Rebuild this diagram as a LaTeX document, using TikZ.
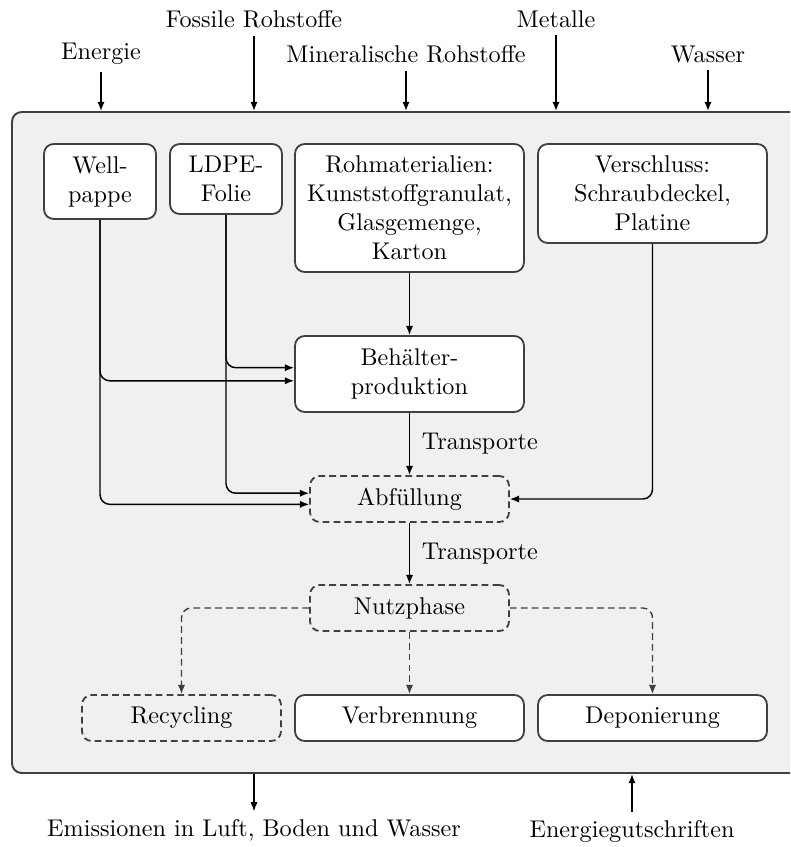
\documentclass[tikz,border=0pt]{standalone}
\usetikzlibrary{arrows.meta,positioning}
\definecolor{bgfill}{HTML}{F0F0F0}
\definecolor{edge}{HTML}{404040}
\def\u{0.4133pt}
\tikzset{
  box/.style={draw=edge, line width=0.75pt, fill=white, rounded corners=4pt, align=center, inner sep=2pt},
  dbox/.style={draw=edge, line width=0.75pt, dash pattern=on 2.8pt off 1.7pt, rounded corners=4pt, align=center, inner sep=2pt},
  outerbox/.style={draw=edge, line width=0.8pt, fill=bgfill, rounded corners=4pt},
  lab/.style={inner sep=3pt},
  conn/.style={line width=0.6pt, -{Latex[length=3.8pt,width=3pt]}, rounded corners=4pt},
  dconn/.style={conn, draw=edge, dash pattern=on 2.8pt off 1.7pt},
}
\begin{document}
\begin{tikzpicture}[x=\u, y=-\u]
\clip (0,0) rectangle (790,847);
\useasboundingbox (0,0) rectangle (790,847);

% system boundary
\node[outerbox, minimum width=820*\u, minimum height=661*\u] (sys) at (422,442.5) {};

% inputs
\node[lab] (energie) at (101,54) {Energie};
\node[lab] (fossil) at (254,19) {Fossile Rohstoffe};
\node[lab] (mineral) at (406,54) {Mineralische Rohstoffe};
\node[lab] (metalle) at (556,19) {Metalle};
\node[lab] (wasser) at (708,54) {Wasser};

\foreach \n in {energie,fossil,mineral,metalle,wasser}
  \draw[conn] (\n.south) -- (\n.south |- sys.north);

% boxes
\node[box, minimum width=112*\u, minimum height=75*\u] (well) at (100,181.5) {Well-\\pappe};
\node[box, minimum width=112*\u, minimum height=70*\u] (ldpe) at (226,179) {LDPE-\\Folie};
\node[box, minimum width=229*\u, minimum height=128*\u] (roh) at (409.5,208) {Rohmaterialien:\\Kunststoffgranulat,\\Glasgemenge,\\Karton};
\node[box, minimum width=229*\u, minimum height=99*\u] (ver) at (652.5,193.5) {Verschluss:\\Schraubdeckel,\\Platine};
\node[box, minimum width=229*\u, minimum height=76*\u] (beh) at (409.5,374) {Behälter-\\produktion};
\node[dbox, minimum width=199*\u, minimum height=46*\u] (abf) at (409.5,499) {Abfüllung};
\node[dbox, minimum width=199*\u, minimum height=46*\u] (nutz) at (409.5,608) {Nutzphase};
\node[dbox, minimum width=199*\u, minimum height=46*\u] (rec) at (181.5,718) {Recycling};
\node[box, minimum width=229*\u, minimum height=46*\u] (verb) at (409.5,718) {Verbrennung};
\node[box, minimum width=229*\u, minimum height=46*\u] (dep) at (652.5,718) {Deponierung};

% connectors
\draw[conn] (roh.south) -- (beh.north);
\draw[conn] (ldpe.south) |- ([yshift=2.6pt]beh.west);
\draw[conn] (well.south) |- ([yshift=-2.8pt]beh.west);
\draw[conn] (ldpe.south) |- ([yshift=2.4pt]abf.west);
\draw[conn] (well.south) |- ([yshift=-2.2pt]abf.west);
\draw[conn] (ver.south) |- (abf.east);
\draw[conn] (beh.south) -- node[right, xshift=1.5pt] {Transporte} (abf.north);
\draw[conn] (abf.south) -- node[right, xshift=1.5pt] {Transporte} (nutz.north);
\draw[dconn] (nutz.west) -| (rec.north);
\draw[dconn] (nutz.south) -- (verb.north);
\draw[dconn] (nutz.east) -| (dep.north);

% outputs
\node[lab] (emis) at (254,830) {Emissionen in Luft, Boden und Wasser};
\node[lab] (gut) at (632,831) {Energiegutschriften};
\draw[conn] (emis.north |- sys.south) -- (emis.north);
\draw[conn] (gut.north) -- (gut.north |- sys.south);
\end{tikzpicture}
\end{document}
